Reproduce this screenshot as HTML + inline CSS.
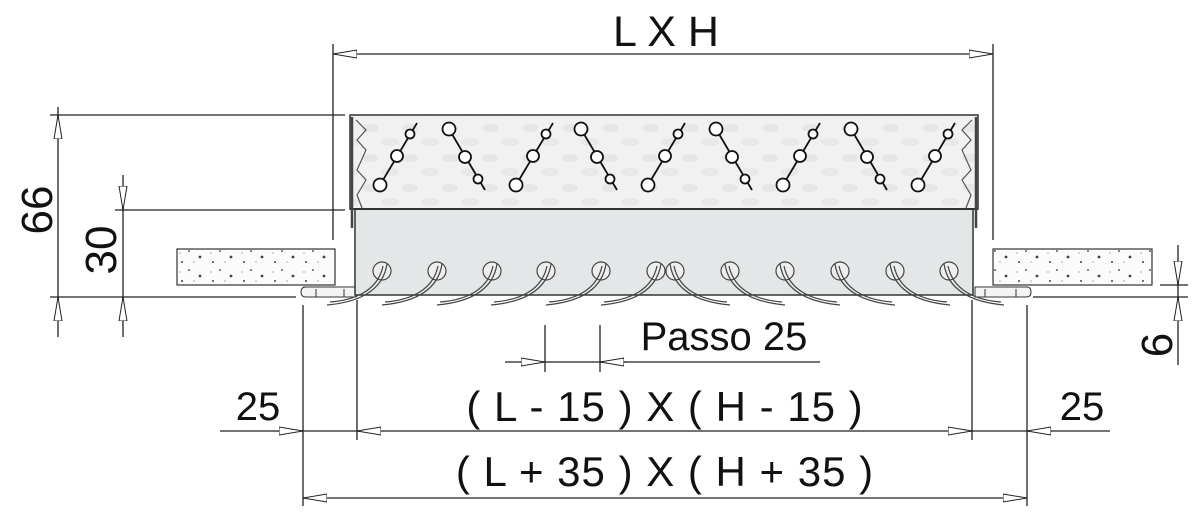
<!DOCTYPE html>
<html><head><meta charset="utf-8"><style>
html,body{margin:0;padding:0;background:#fff;}
svg{display:block;}
text{font-family:"Liberation Sans",sans-serif;fill:#111;}
</style></head><body>
<svg width="1200" height="521" viewBox="0 0 1200 521" xmlns="http://www.w3.org/2000/svg">
<defs>
<pattern id="dots" width="31" height="19" patternUnits="userSpaceOnUse">
<rect width="31" height="19" fill="#fbfbfb"/>
<circle cx="3" cy="4" r="0.9" fill="#333"/><circle cx="14" cy="10" r="1.4" fill="#444"/><circle cx="8" cy="15" r="0.6" fill="#777"/><circle cx="25" cy="6" r="0.6" fill="#777"/><circle cx="27" cy="15" r="1" fill="#444"/>
</pattern>
<pattern id="tex" width="40" height="30" patternUnits="userSpaceOnUse">
<rect width="40" height="30" fill="#f1f1f1"/>
<ellipse cx="10" cy="8" rx="8" ry="4" fill="#e6e6e6"/><ellipse cx="30" cy="22" rx="9" ry="4" fill="#e8e8e8"/>
</pattern>
<marker id="a" viewBox="0 0 24 10" refX="24" refY="5" markerWidth="24" markerHeight="10" markerUnits="userSpaceOnUse" orient="auto-start-reverse">
<path d="M0,1 L24,5 L0,9 Z" fill="#fff" stroke="#222" stroke-width="1"/>
</marker>
</defs>
<g stroke="#222" stroke-width="1.3" fill="none">
<line x1="333" y1="54" x2="993" y2="54" marker-start="url(#a)" marker-end="url(#a)"/>
<line x1="333" y1="44" x2="333" y2="240"/>
<line x1="993" y1="44" x2="993" y2="240"/>
<line x1="50" y1="115" x2="345" y2="115"/>
<line x1="115" y1="210" x2="345" y2="210"/>
<line x1="50" y1="297" x2="296" y2="297"/>
<line x1="58" y1="107" x2="58" y2="337"/>
<line x1="58" y1="140" x2="58" y2="115" marker-end="url(#a)"/>
<line x1="58" y1="322" x2="58" y2="297" marker-end="url(#a)"/>
<line x1="123" y1="175" x2="123" y2="337"/>
<line x1="123" y1="185" x2="123" y2="210" marker-end="url(#a)"/>
<line x1="123" y1="322" x2="123" y2="297" marker-end="url(#a)"/>
<line x1="1160" y1="285" x2="1188" y2="285"/>
<line x1="1033" y1="297" x2="1188" y2="297"/>
<line x1="1178" y1="245" x2="1178" y2="365"/>
<line x1="1178" y1="260" x2="1178" y2="285" marker-end="url(#a)"/>
<line x1="1178" y1="322" x2="1178" y2="297" marker-end="url(#a)"/>
<line x1="303" y1="305" x2="303" y2="506"/>
<line x1="357" y1="300" x2="357" y2="440"/>
<line x1="972" y1="300" x2="972" y2="440"/>
<line x1="1027" y1="305" x2="1027" y2="506"/>
<line x1="505" y1="362" x2="820" y2="362"/>
<line x1="545" y1="325" x2="545" y2="372"/>
<line x1="600" y1="325" x2="600" y2="372"/>
<line x1="520" y1="362" x2="545" y2="362" marker-end="url(#a)"/>
<line x1="627" y1="362" x2="600" y2="362" marker-end="url(#a)"/>
<line x1="220" y1="431" x2="1110" y2="431"/>
<line x1="278" y1="431" x2="303" y2="431" marker-end="url(#a)"/>
<line x1="380" y1="431" x2="357" y2="431" marker-end="url(#a)"/>
<line x1="948" y1="431" x2="972" y2="431" marker-end="url(#a)"/>
<line x1="1052" y1="431" x2="1027" y2="431" marker-end="url(#a)"/>
<line x1="303" y1="498" x2="1027" y2="498" marker-start="url(#a)" marker-end="url(#a)"/>
</g>
<rect x="177" y="249" width="158" height="36" fill="url(#dots)" stroke="#333" stroke-width="1.2"/>
<rect x="993" y="249" width="159" height="36" fill="url(#dots)" stroke="#333" stroke-width="1.2"/>
<g fill="#f4f4f4" stroke="#333" stroke-width="1">
<path d="M303,287 L356,287 L356,297 L306,297 Q301,297 301,292 Q301,287 306,287 Z"/>
<path d="M975,287 L1027,287 Q1031,287 1031,292 Q1031,297 1026,297 L975,297 Z"/>
<line x1="316" y1="289" x2="316" y2="297"/><line x1="344" y1="289" x2="344" y2="297"/>
<line x1="985" y1="289" x2="985" y2="297"/><line x1="1016" y1="289" x2="1016" y2="297"/>
</g>
<rect x="350" y="115" width="628" height="94" fill="url(#tex)" stroke="#333" stroke-width="1.5"/>
<rect x="355" y="209" width="618" height="86" fill="#e3e7e8" stroke="#333" stroke-width="1.5"/>
<line x1="350" y1="209" x2="978" y2="209" stroke="#333" stroke-width="2"/>
<g stroke="#444" stroke-width="2.5" fill="none">
<line x1="352" y1="117" x2="352" y2="228"/>
<line x1="976" y1="117" x2="976" y2="228"/>
</g>
<g stroke="#555" stroke-width="1.2" fill="none">
<path d="M356,120 L366,130 L357,140 L366,150 L357,170 L366,180 L357,195 L362,208"/>
<path d="M972,120 L962,130 L971,140 L962,150 L971,170 L962,180 L971,195 L966,208"/>
</g>
<g stroke="#111" stroke-width="1.8" fill="#fff">
<g id="up"><line x1="380" y1="185" x2="417" y2="123"/><circle cx="380" cy="185" r="6.5"/><circle cx="397" cy="156" r="6"/><circle cx="410" cy="134" r="4.5"/></g>
<g id="dn"><line x1="449" y1="129" x2="485" y2="190"/><circle cx="449" cy="129" r="6.5"/><circle cx="465" cy="157" r="6"/><circle cx="478" cy="179" r="4.5"/></g>
<use href="#up" x="136"/><use href="#dn" x="132"/>
<use href="#up" x="268"/><use href="#dn" x="267"/>
<use href="#up" x="403"/><use href="#dn" x="402"/>
<use href="#up" x="538"/>
</g>
<g stroke="#444" stroke-width="1.2" fill="none">
<g id="bl"><circle cx="382" cy="271" r="9" fill="#eee"/><path d="M387,264 C383,290 360,302 327,305"/><path d="M383,266 C378,290 356,300 330,302"/></g>
<use href="#bl" x="55"/><use href="#bl" x="110"/><use href="#bl" x="164"/><use href="#bl" x="219"/><use href="#bl" x="274"/>
<g id="br"><circle cx="675" cy="271" r="9" fill="#eee"/><path d="M670,264 C674,290 697,302 730,305"/><path d="M674,266 C679,290 701,300 727,302"/></g>
<use href="#br" x="55"/><use href="#br" x="110"/><use href="#br" x="165"/><use href="#br" x="220"/><use href="#br" x="274"/>
</g>
<text x="666" y="46" font-size="43" text-anchor="middle">L X H</text>
<text transform="translate(52,210) rotate(-90)" font-size="44" text-anchor="middle">66</text>
<text transform="translate(116,250) rotate(-90)" font-size="44" text-anchor="middle">30</text>
<text transform="translate(1172,345) rotate(-90)" font-size="44" text-anchor="middle">6</text>
<text x="724" y="350" font-size="40" text-anchor="middle">Passo 25</text>
<text x="258" y="420" font-size="40" text-anchor="middle">25</text>
<text x="1082" y="420" font-size="40" text-anchor="middle">25</text>
<text x="665" y="421" font-size="42" text-anchor="middle" letter-spacing="1">( L - 15 ) X ( H - 15 )</text>
<text x="665" y="486" font-size="42" text-anchor="middle" letter-spacing="1">( L + 35 ) X ( H + 35 )</text>
</svg>
</body></html>
